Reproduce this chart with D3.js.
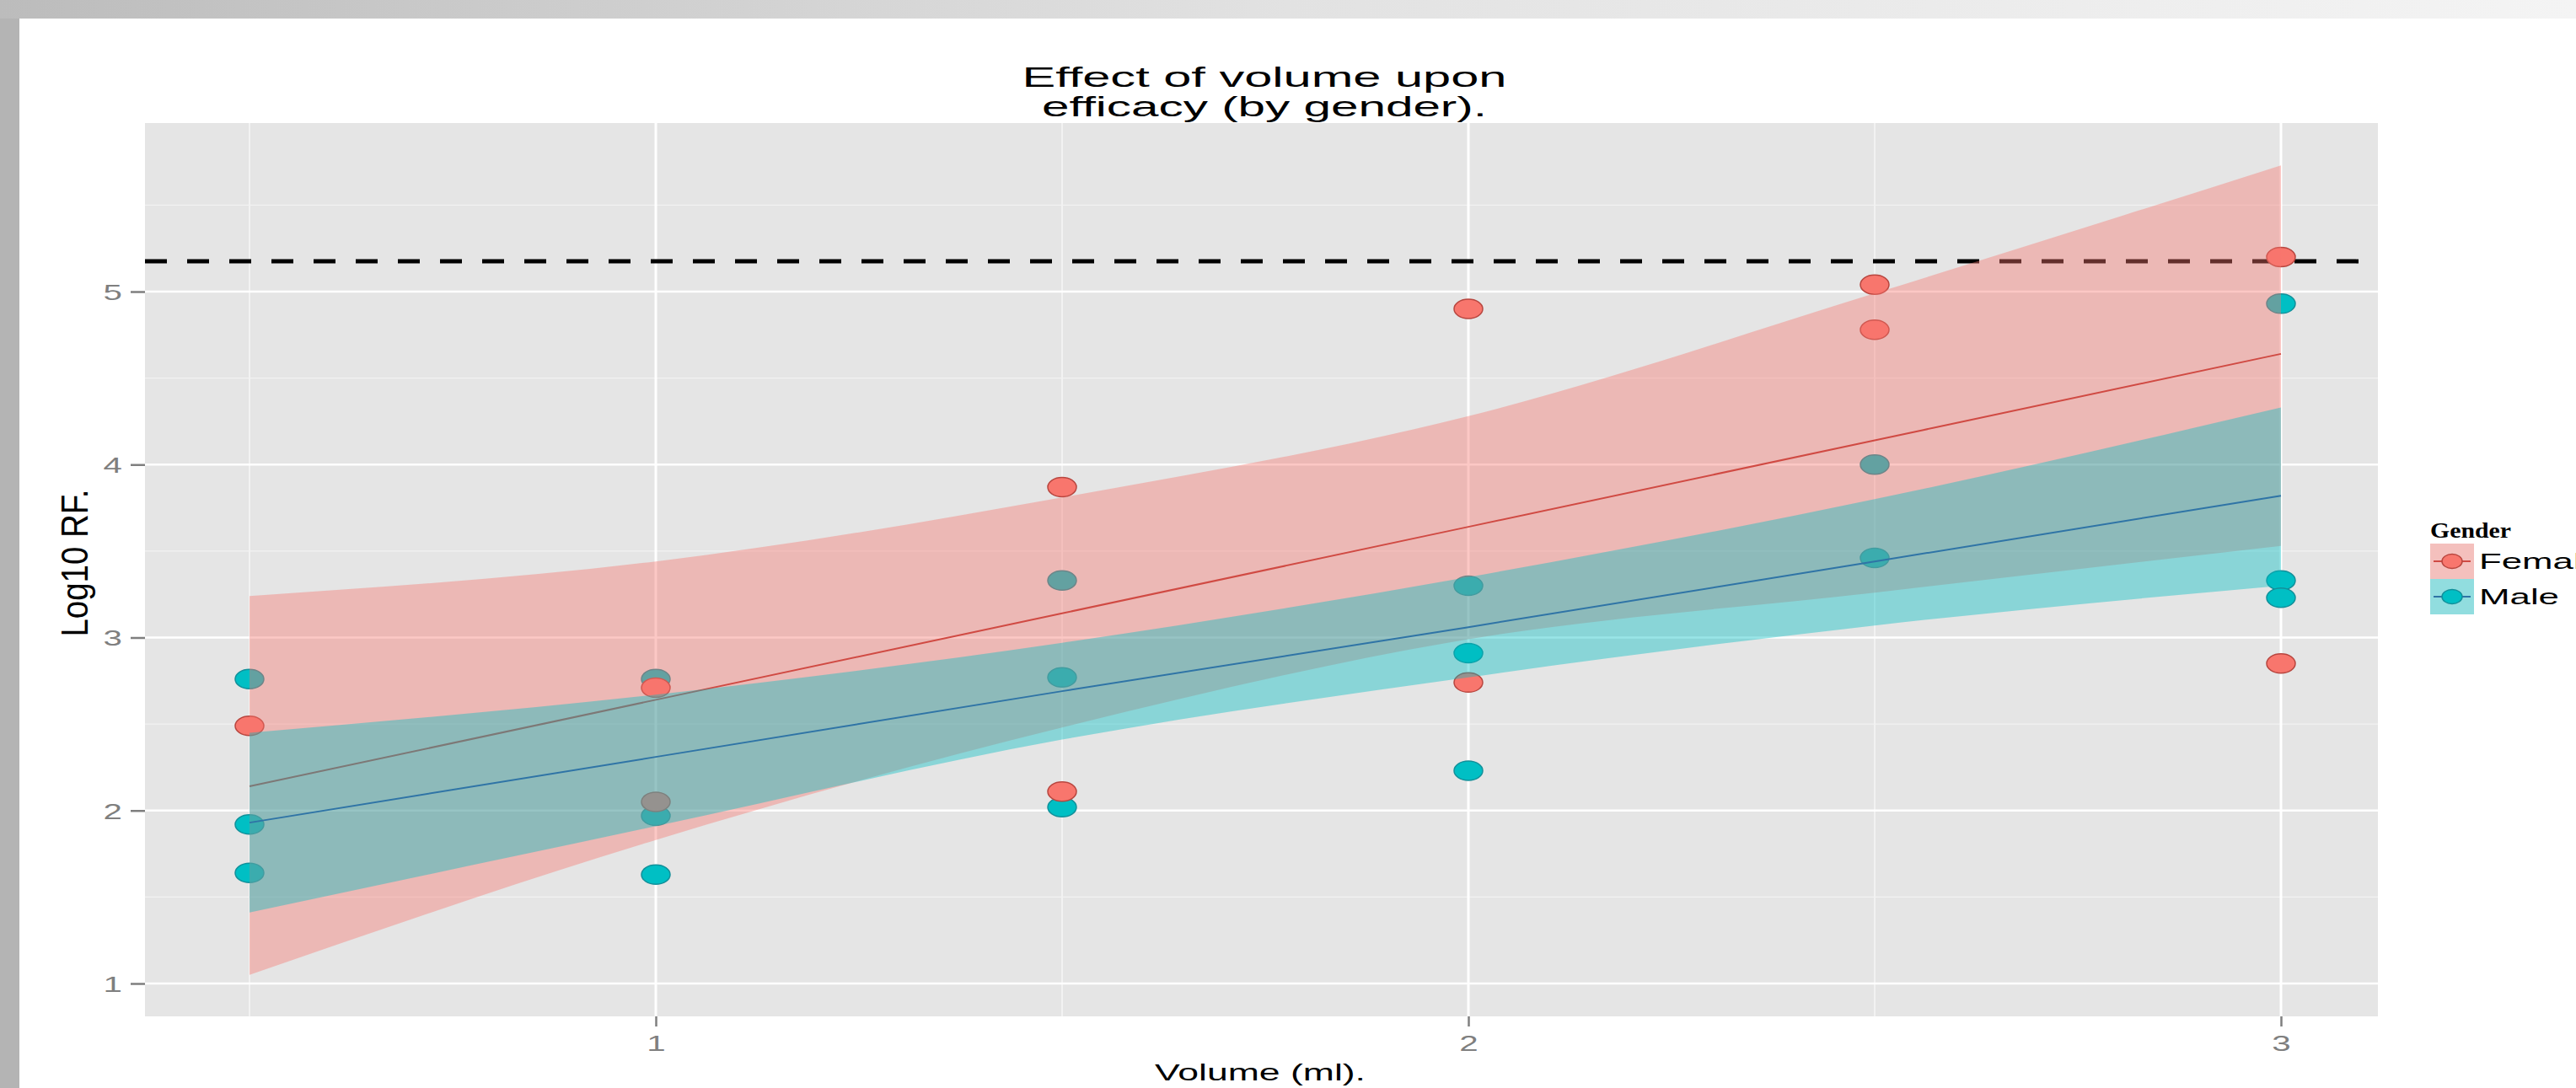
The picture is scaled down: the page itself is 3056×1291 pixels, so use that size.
<!DOCTYPE html>
<html>
<head>
<meta charset="utf-8">
<script src="https://cdn.jsdelivr.net/npm/d3@7"></script>
<style>
  html, body { margin: 0; padding: 0; background: #fff; }
  svg { display: block; }
</style>
</head>
<body>
<div id="chart"></div>
<script>
// data
var xCats = [0.5, 1, 1.5, 2, 2.5, 3];

var femaleX = [0.5, 1, 1, 1.5, 1.5, 2, 2, 2.5, 2.5, 3, 3];
var femaleY = [2.49, 2.71, 2.05, 3.87, 2.11, 4.90, 2.74, 5.04, 4.78, 5.20, 2.85];
var maleX = [0.5, 0.5, 0.5, 1, 1, 1, 1.5, 1.5, 1.5, 2, 2, 2, 2.5, 2.5, 3, 3, 3];
var maleY = [2.76, 1.92, 1.64, 2.76, 1.97, 1.63, 3.33, 2.77, 2.02, 3.30, 2.91, 2.23, 4.00, 3.46, 4.93, 3.33, 3.23];

// fitted lines and confidence bands, at xCats
var femaleFit = [2.14, 2.64, 3.14, 3.64, 4.14, 4.64];
var femaleLo  = [1.05, 1.83, 2.48, 2.99, 3.26, 3.53];
var femaleHi  = [3.24, 3.44, 3.81, 4.28, 4.99, 5.73];
var maleFit   = [1.93, 2.31, 2.69, 3.06, 3.44, 3.82];
var maleLo    = [1.41, 1.91, 2.41, 2.77, 3.07, 3.30];
var maleHi    = [2.45, 2.67, 2.97, 3.35, 3.80, 4.33];

var xTicks = [1, 2, 3];
var xMinor = [0.5, 1.5, 2.5];
var yTicks = [1, 2, 3, 4, 5];
var yMinor = [1.5, 2.5, 3.5, 4.5, 5.5];
var refLine = 5.175;
var genders = ['Female', 'Male'];

// width and height
var w = 3056;
var h = 1291;
var panel = { left: 172, right: 2821, top: 146, bottom: 1206 };
var S = 1.55;   // the picture is stretched sideways

var colRed = '#F8766D', colTeal = '#00BFC4';
var lineRed = '#d04a43', lineTeal = '#2f74a6';

var x = d3.scaleLinear().domain([0.5, 3]).range([296, 2706]);
var y = d3.scaleLinear().domain([1, 5]).range([1167, 346]);

var svg = d3.select('#chart').append('svg')
    .attr('width', w)
    .attr('height', h)
    .style('font-family', '"Liberation Sans", Arial, sans-serif');

// slide frame around the chart
var grad = svg.append('defs').append('linearGradient').attr('id', 'topband');
grad.append('stop').attr('offset', '0%').attr('stop-color', '#bcbcbc');
grad.append('stop').attr('offset', '50%').attr('stop-color', '#e2e2e2');
grad.append('stop').attr('offset', '100%').attr('stop-color', '#f4f4f4');
svg.append('rect').attr('width', w).attr('height', h).attr('fill', '#fff');
svg.append('rect').attr('width', w).attr('height', 22).attr('fill', 'url(#topband)');
svg.append('rect').attr('y', 22).attr('width', 23).attr('height', h - 22).attr('fill', '#b4b4b4');

// panel
svg.append('rect')
    .attr('x', panel.left).attr('y', panel.top)
    .attr('width', panel.right - panel.left)
    .attr('height', panel.bottom - panel.top)
    .attr('fill', '#e5e5e5');

var grid = svg.append('g');
grid.selectAll('.ymin').data(yMinor).enter().append('line')
    .attr('x1', panel.left).attr('x2', panel.right)
    .attr('y1', function(d) { return y(d); }).attr('y2', function(d) { return y(d); })
    .attr('stroke', '#f2f2f2').attr('stroke-width', 1.3);
grid.selectAll('.xmin').data(xMinor).enter().append('line')
    .attr('y1', panel.top).attr('y2', panel.bottom)
    .attr('x1', function(d) { return x(d); }).attr('x2', function(d) { return x(d); })
    .attr('stroke', '#f2f2f2').attr('stroke-width', 2);
grid.selectAll('.ymaj').data(yTicks).enter().append('line')
    .attr('x1', panel.left).attr('x2', panel.right)
    .attr('y1', function(d) { return y(d); }).attr('y2', function(d) { return y(d); })
    .attr('stroke', '#fff').attr('stroke-width', 2.5);
grid.selectAll('.xmaj').data(xTicks).enter().append('line')
    .attr('y1', panel.top).attr('y2', panel.bottom)
    .attr('x1', function(d) { return x(d); }).attr('x2', function(d) { return x(d); })
    .attr('stroke', '#fff').attr('stroke-width', 3);

// dashed reference line
svg.append('line')
    .attr('x1', panel.left).attr('x2', panel.right)
    .attr('y1', y(refLine)).attr('y2', y(refLine))
    .attr('stroke', '#000').attr('stroke-width', 5)
    .attr('stroke-dasharray', '26,24');

// points
function pts(xs, ys) { return xs.map(function(v, i) { return { x: v, y: ys[i] }; }); }
var dots = svg.append('g');
dots.selectAll('.m').data(pts(maleX, maleY)).enter().append('ellipse')
    .attr('cx', function(d) { return x(d.x); })
    .attr('cy', function(d) { return y(d.y); })
    .attr('rx', 17).attr('ry', 11.5)
    .attr('fill', colTeal).attr('stroke', '#12909a').attr('stroke-width', 1.5);
dots.selectAll('.f').data(pts(femaleX, femaleY)).enter().append('ellipse')
    .attr('cx', function(d) { return x(d.x); })
    .attr('cy', function(d) { return y(d.y); })
    .attr('rx', 17).attr('ry', 11.5)
    .attr('fill', colRed).attr('stroke', '#b8463f').attr('stroke-width', 1.5);

// smooths: ribbon then line, per group
var area = d3.area()
    .x(function(d) { return x(d.x); })
    .y0(function(d) { return y(d.lo); })
    .y1(function(d) { return y(d.hi); })
    .curve(d3.curveMonotoneX);
var line = d3.line()
    .x(function(d) { return x(d.x); })
    .y(function(d) { return y(d.fit); });

function band(fit, lo, hi) {
    return xCats.map(function(v, i) { return { x: v, fit: fit[i], lo: lo[i], hi: hi[i] }; });
}
var smooths = [
    { data: band(femaleFit, femaleLo, femaleHi), fill: colRed, stroke: lineRed },
    { data: band(maleFit, maleLo, maleHi), fill: colTeal, stroke: lineTeal }
];
smooths.forEach(function(s) {
    svg.append('path').attr('d', area(s.data))
        .attr('fill', s.fill).attr('fill-opacity', 0.4);
    svg.append('path').attr('d', line(s.data))
        .attr('fill', 'none').attr('stroke', s.stroke).attr('stroke-width', 2);
});

// axes
var yAxis = svg.append('g')
    .attr('transform', 'translate(' + panel.left + ',0)')
    .call(d3.axisLeft(y).tickValues(yTicks).tickSize(17).tickFormat(d3.format('d')));
var xAxis = svg.append('g')
    .attr('transform', 'translate(0,' + panel.bottom + ')')
    .call(d3.axisBottom(x).tickValues(xTicks).tickSize(12).tickFormat(d3.format('d')));

[yAxis, xAxis].forEach(function(a) {
    a.select('.domain').remove();
    a.selectAll('.tick line').attr('stroke', '#7f7f7f').attr('stroke-width', 2.5);
    a.selectAll('.tick text')
        .attr('fill', '#7f7f7f')
        .attr('font-size', 26)
        .attr('font-family', '"Liberation Sans", Arial, sans-serif');
});
yAxis.selectAll('.tick text')
    .attr('x', -27 / S).attr('dy', '0.36em')
    .attr('transform', 'scale(' + S + ',1)');
xAxis.selectAll('.tick text')
    .attr('y', 41).attr('dy', 0)
    .attr('transform', 'scale(' + S + ',1)');

// titles
svg.append('text').attr('x', 1500).attr('y', 103)
    .attr('text-anchor', 'middle').attr('font-size', 34)
    .attr('textLength', 575).attr('lengthAdjust', 'spacingAndGlyphs')
    .text('Effect of volume upon');
svg.append('text').attr('x', 1500).attr('y', 138)
    .attr('text-anchor', 'middle').attr('font-size', 34)
    .attr('textLength', 528).attr('lengthAdjust', 'spacingAndGlyphs')
    .text('efficacy (by gender).');

svg.append('text').attr('x', 1495).attr('y', 1282)
    .attr('text-anchor', 'middle').attr('font-size', 28)
    .attr('textLength', 250).attr('lengthAdjust', 'spacingAndGlyphs')
    .text('Volume (ml).');

svg.append('text')
    .attr('transform', 'translate(104,668) scale(1.7,1) rotate(-90)')
    .attr('text-anchor', 'middle').attr('font-size', 26)
    .attr('textLength', 175).attr('lengthAdjust', 'spacingAndGlyphs')
    .text('Log10 RF.');

// legend
var leg = svg.append('g');
leg.append('text').attr('x', 2883).attr('y', 638)
    .attr('font-family', '"Liberation Serif", "Times New Roman", serif')
    .attr('font-weight', 'bold').attr('font-size', 25)
    .attr('textLength', 96).attr('lengthAdjust', 'spacingAndGlyphs')
    .text('Gender');

var keys = leg.selectAll('.key').data(genders).enter().append('g')
    .attr('transform', function(d, i) { return 'translate(2883,' + (645 + i * 42) + ')'; });
keys.append('rect').attr('width', 52).attr('height', 42).attr('fill', '#f2f2f2');
keys.append('rect').attr('width', 52).attr('height', 42)
    .attr('fill', function(d, i) { return i ? colTeal : colRed; })
    .attr('fill-opacity', 0.4);
keys.append('line').attr('x1', 4).attr('x2', 48).attr('y1', 21).attr('y2', 21)
    .attr('stroke', function(d, i) { return i ? lineTeal : lineRed; })
    .attr('stroke-width', 2);
keys.append('ellipse').attr('cx', 26).attr('cy', 21).attr('rx', 12).attr('ry', 8.5)
    .attr('fill', function(d, i) { return i ? colTeal : colRed; })
    .attr('stroke', function(d, i) { return i ? '#12909a' : '#b8463f'; })
    .attr('stroke-width', 1.5);
keys.append('text').attr('x', 58).attr('y', 30)
    .attr('font-size', 26)
    .attr('textLength', function(d) { return d === 'Male' ? 95 : 146; })
    .attr('lengthAdjust', 'spacingAndGlyphs')
    .text(function(d) { return d; });
</script>
</body>
</html>
